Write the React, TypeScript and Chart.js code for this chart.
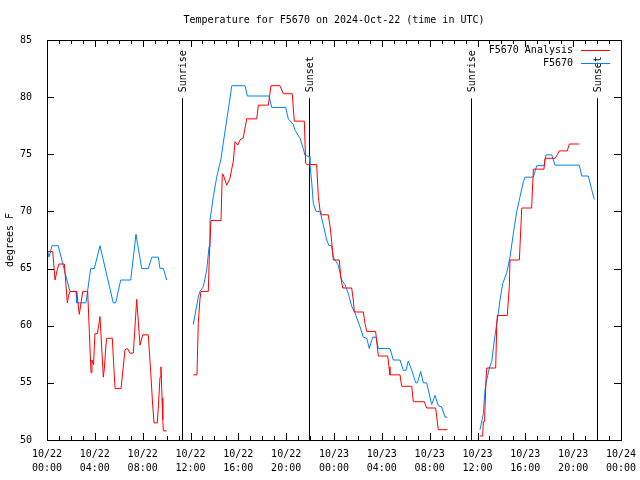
import React, { useEffect, useRef } from "react";
import { Chart, registerables } from "chart.js";

Chart.register(...registerables);

const FONT = '"DejaVu Sans Mono", "Liberation Mono", monospace';

const titleText = "Temperature for F5670 on 2024-Oct-22 (time in UTC)";
const yAxisTitle = "degrees F";
const seriesNames = ["F5670 Analysis", "F5670"];
const seriesColors = ["#ff0000", "#0080ff"];

const tickDates = ["10/22", "10/22", "10/22", "10/22", "10/22", "10/22", "10/23", "10/23", "10/23", "10/23", "10/23", "10/23", "10/24"];
const tickTimes = ["00:00", "04:00", "08:00", "12:00", "16:00", "20:00", "00:00", "04:00", "08:00", "12:00", "16:00", "20:00", "00:00"];

const sunLabels = ["Sunrise", "Sunset", "Sunrise", "Sunset"];
const sunHours = [11.32, 21.94, 35.43, 46.02];

// hours since 10/22 00:00 UTC ; null = gap
const redHours = [
  0.0, 0.48, 0.67, 0.84, 1.0, 1.45, 1.7, 1.8, 1.92, 2.48, 2.7, 2.99, 3.4, 3.68, 3.76, 3.89, 4.01, 4.21, 4.32, 4.43,
  4.71, 4.79, 4.93, 4.99, 5.46, 5.69, 6.19, 6.36, 6.52, 6.72, 6.94, 7.22, 7.5, 7.78, 8.0, 8.47, 8.67, 8.84, 8.95,
  9.22, 9.32, 9.45, 9.53, 9.62, 9.68, 9.73, 10.01,
  11.0,
  12.23, 12.54, 12.65, 12.79, 12.88, 13.49, 13.57, 13.71, 14.55, 14.66, 14.74, 15.03, 15.3, 15.58, 15.72, 15.95,
  16.14, 16.33, 16.4, 16.7, 17.54, 17.67, 18.51, 18.73, 19.48, 19.76, 20.51, 20.68, 21.52, 21.63, 21.76, 22.55,
  22.69, 22.83, 22.97, 23.52, 23.67, 23.81, 23.94, 24.45, 24.56, 24.73, 25.48, 25.61, 25.7, 26.45, 26.59, 26.74,
  27.48, 27.65, 27.71, 28.49, 28.6, 28.68, 29.52, 29.66, 30.5, 30.63, 31.55, 31.75, 32.5, 32.59, 32.72, 33.48,
  34.8,
  36.21, 36.43, 36.49, 36.59, 36.71, 36.77, 37.52, 37.61, 37.66, 38.49, 38.66, 38.72, 39.5, 39.7, 40.53, 40.67,
  41.56, 41.65, 42.48, 42.67, 42.84, 43.51, 43.68, 44.51,
];
const redTemps = [
  66.5, 66.5, 64.0, 64.8, 65.4, 65.4, 62.0, 62.6, 63.0, 63.0, 61.0, 63.0, 63.0, 55.9, 57.0, 56.6, 59.3, 59.3, 60.0, 60.8,
  55.5, 56.2, 58.3, 58.9, 58.9, 54.5, 54.5, 56.2, 57.9, 58.0, 57.6, 57.6, 62.3, 58.3, 59.2, 59.2, 56.0, 53.0, 51.5,
  51.5, 53.0, 55.5, 56.4, 53.7, 51.8, 50.8, 50.8,
  null,
  55.7, 55.7, 60.2, 62.3, 63.0, 63.0, 66.0, 69.2, 69.2, 73.3, 73.2, 72.3, 72.9, 74.4, 76.1, 75.8,
  76.25, 76.4, 76.4, 78.1, 78.1, 79.3, 79.3, 81.0, 81.0, 80.3, 80.3, 77.9, 77.9, 74.2, 74.1, 74.1,
  71.3, 70.1, 69.7, 69.7, 68.7, 67.35, 65.75, 65.75, 64.3, 63.3, 63.3, 62.25, 61.2, 61.2, 60.2, 59.5,
  59.5, 57.9, 57.35, 57.35, 56.4, 55.7, 55.7, 54.7, 54.7, 53.35, 53.35, 52.8, 52.8, 52.0, 50.9, 50.9,
  null,
  50.35, 50.35, 51.6, 51.6, 55.25, 56.3, 56.3, 60.1, 60.9, 60.9, 63.4, 65.75, 65.75, 70.3, 70.3, 73.7,
  73.7, 74.65, 74.65, 74.95, 75.3, 75.3, 75.9, 75.9,
];

const blueHours = [
  0.0, 0.17, 0.42, 0.94, 1.42, 1.92, 2.43, 2.48, 3.26, 3.65, 3.96, 4.43, 5.54, 5.75, 6.16, 7.0, 7.44, 7.92, 8.47,
  8.76, 9.31, 9.45, 9.73, 10.01,
  11.0,
  12.23, 12.65, 12.79, 13.07, 13.36, 13.55, 13.63, 13.91, 14.19, 14.55, 14.74, 15.03, 15.25, 15.45, 16.56, 16.75,
  18.57, 18.79, 19.96, 20.18, 20.6, 20.74, 21.16, 21.43, 21.58, 21.94, 21.99, 22.14, 22.27, 22.5, 22.83, 23.11,
  23.39, 23.58, 23.81, 23.94, 24.36, 24.64, 24.92, 25.2, 25.48, 25.76, 26.18, 26.45, 26.74, 26.95, 27.24, 27.51,
  27.71, 28.68, 28.96, 29.52, 29.8, 30.02, 30.21, 30.5, 30.83, 30.97, 31.25, 31.47, 31.75, 32.17, 32.45, 32.72,
  33.0, 33.28, 33.48,
  34.8,
  36.21, 36.49, 36.63, 36.77, 36.99, 37.19, 37.38, 37.61, 37.74, 37.88, 38.11, 38.44, 38.72, 39.0, 39.28, 39.56,
  39.83, 39.97, 40.67, 40.95, 41.56, 41.73, 42.21, 42.48, 44.51, 44.72, 45.27, 45.55, 45.77,
];
const blueTemps = [
  66.8, 66.0, 67.0, 67.0, 65.0, 63.0, 63.0, 62.0, 62.0, 65.0, 65.0, 67.0, 62.0, 62.0, 64.0, 64.0, 68.0, 65.0, 65.0,
  66.0, 66.0, 65.0, 65.0, 64.0,
  null,
  60.1, 62.5, 63.0, 63.4, 64.9, 66.9, 69.2, 71.3, 73.0, 74.6, 76.0, 78.0, 79.5, 81.0, 81.0, 80.1,
  80.1, 79.1, 79.1, 78.1, 77.6, 77.1, 76.4, 75.5, 74.9, 74.8, 74.1, 72.5, 70.7, 70.0, 70.0, 68.8,
  67.5, 67.0, 67.0, 66.0, 65.3, 64.0, 63.6, 62.8, 61.7, 61.1, 59.9, 59.0, 58.9, 58.0, 59.0, 59.0,
  58.0, 58.0, 57.0, 57.0, 56.1, 56.1, 56.9, 56.1, 55.0, 55.0, 56.0, 55.0, 55.0, 53.1, 53.9, 53.0,
  52.9, 52.0, 52.0,
  null,
  50.9, 52.3, 54.4, 55.25, 56.3, 56.85, 58.5, 60.2, 61.1, 62.25, 63.7, 64.6, 66.0, 68.1, 70.0, 71.3,
  72.6, 73.0, 73.0, 74.0, 74.0, 74.95, 74.95, 74.05, 74.05, 73.1, 73.1, 71.9, 71.05,
];

const Y_MIN = 50;
const Y_MAX = 85;
const Y_STEP = 5;
const X_MIN = 0;
const X_MAX = 48;
const X_STEP = 4;
const SUN_LINE_TOP = 79.9;

const toPoints = (hours: number[], temps: (number | null)[]) =>
  hours.map((h, i) => ({ x: h, y: temps[i] }));

const overlayPlugin = {
  id: "gnuplotOverlay",
  beforeDatasetsDraw(chart: any) {
    const { ctx, scales } = chart;
    const xs = scales.x;
    const ys = scales.y;
    ctx.save();
    ctx.strokeStyle = "#000";
    ctx.lineWidth = 1;
    ctx.fillStyle = "#000";
    ctx.font = `10px ${FONT}`;
    sunHours.forEach((h, i) => {
      const px = Math.round(xs.getPixelForValue(h)) + 0.5;
      const top = ys.getPixelForValue(SUN_LINE_TOP);
      ctx.beginPath();
      ctx.moveTo(px, top);
      ctx.lineTo(px, ys.getPixelForValue(Y_MIN));
      ctx.stroke();
      ctx.save();
      ctx.translate(px + 1, top - 6);
      ctx.rotate(-Math.PI / 2);
      ctx.textAlign = "left";
      ctx.textBaseline = "middle";
      ctx.fillText(sunLabels[i], 0, 0);
      ctx.restore();
    });
    ctx.restore();
  },
  afterDatasetsDraw(chart: any) {
    const { ctx, chartArea, scales } = chart;
    const xs = scales.x;
    const ys = scales.y;
    const { left, right, top, bottom } = chartArea;
    ctx.save();
    ctx.strokeStyle = "#000";
    ctx.lineWidth = 1;
    ctx.strokeRect(Math.round(left) + 0.5, Math.round(top) + 0.5, Math.round(right - left), Math.round(bottom - top));
    // x ticks (inward, top and bottom)
    ctx.beginPath();
    for (let h = X_MIN; h <= X_MAX; h += 1) {
      const px = Math.round(xs.getPixelForValue(h)) + 0.5;
      const len = h % X_STEP === 0 ? 7 : 4;
      ctx.moveTo(px, bottom);
      ctx.lineTo(px, bottom - len);
      ctx.moveTo(px, top);
      ctx.lineTo(px, top + len);
    }
    // y ticks (inward, left and right)
    for (let v = Y_MIN; v <= Y_MAX; v += Y_STEP) {
      const py = Math.round(ys.getPixelForValue(v)) + 0.5;
      ctx.moveTo(left, py);
      ctx.lineTo(left + 7, py);
      ctx.moveTo(right, py);
      ctx.lineTo(right - 7, py);
    }
    ctx.stroke();

    // title
    ctx.fillStyle = "#000";
    ctx.font = `10px ${FONT}`;
    ctx.textAlign = "center";
    ctx.textBaseline = "middle";
    ctx.fillText(titleText, (left + right) / 2, 20);

    // legend
    ctx.textAlign = "right";
    seriesNames.forEach((name, i) => {
      const y = 50 + i * 13;
      ctx.fillStyle = "#000";
      ctx.fillText(name, 573, y);
      ctx.strokeStyle = seriesColors[i];
      ctx.beginPath();
      ctx.moveTo(581, y + 0.5);
      ctx.lineTo(610, y + 0.5);
      ctx.stroke();
    });
    ctx.restore();
  },
};

export default function App() {
  const canvasRef = useRef<HTMLCanvasElement | null>(null);

  useEffect(() => {
    const canvas = canvasRef.current;
    if (!canvas) return;
    const chart = new Chart(canvas, {
      type: "line",
      data: {
        datasets: [
          {
            label: seriesNames[0],
            data: toPoints(redHours, redTemps),
            borderColor: seriesColors[0],
            backgroundColor: seriesColors[0],
            borderWidth: 1,
            pointRadius: 0,
            tension: 0,
            spanGaps: false,
          },
          {
            label: seriesNames[1],
            data: toPoints(blueHours, blueTemps),
            borderColor: seriesColors[1],
            backgroundColor: seriesColors[1],
            borderWidth: 1,
            pointRadius: 0,
            tension: 0,
            spanGaps: false,
          },
        ],
      },
      options: {
        responsive: false,
        animation: false,
        devicePixelRatio: 1,
        layout: { padding: { left: 0, right: 19, top: 40, bottom: 0 } },
        plugins: {
          legend: { display: false },
          title: { display: false },
          tooltip: { enabled: false },
        },
        scales: {
          x: {
            type: "linear",
            min: X_MIN,
            max: X_MAX,
            grid: { display: false },
            border: { display: false },
            ticks: {
              stepSize: X_STEP,
              autoSkip: false,
              maxRotation: 0,
              padding: -1,
              color: "#000",
              font: { family: FONT, size: 10, lineHeight: 1.4 },
              callback: (_v: any, i: number) => [tickDates[i], tickTimes[i]],
            },
            afterFit: (scale: any) => {
              scale.height = 40;
            },
          },
          y: {
            type: "linear",
            min: Y_MIN,
            max: Y_MAX,
            grid: { display: false },
            border: { display: false },
            ticks: {
              stepSize: Y_STEP,
              padding: 7,
              color: "#000",
              font: { family: FONT, size: 10 },
            },
            title: {
              display: true,
              text: yAxisTitle,
              color: "#000",
              font: { family: FONT, size: 10 },
              padding: { top: 4, bottom: 0 },
            },
            afterFit: (scale: any) => {
              scale.width = 47;
            },
          },
        },
      },
      plugins: [overlayPlugin],
    });
    return () => chart.destroy();
  }, []);

  return (
    <div style={{ position: "absolute", left: 0, top: 0, width: 640, height: 480, background: "#fff" }}>
      <canvas ref={canvasRef} width={640} height={480} style={{ width: 640, height: 480 }} />
    </div>
  );
}
